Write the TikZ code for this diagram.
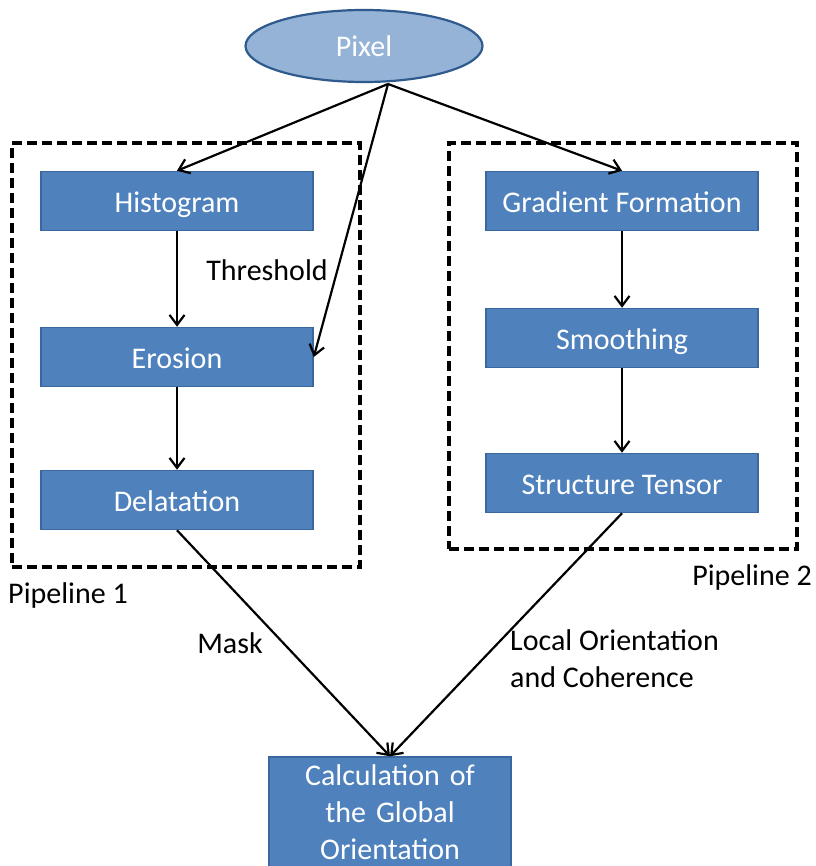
\documentclass[tikz,border=0pt]{standalone}
\usepackage{fontspec}
\setmainfont{Carlito}
\usetikzlibrary{arrows.meta,shapes.geometric}
\definecolor{boxfill}{HTML}{4F81BD}
\definecolor{boxedge}{HTML}{3A679E}
\definecolor{ellfill}{HTML}{95B3D7}
\definecolor{elledge}{HTML}{2E5A8E}
\tikzset{
  basebox/.style={draw=boxedge, line width=1.5pt, fill=boxfill, text=white, inner sep=0pt},
  procbox/.style={basebox, minimum width=272pt, minimum height=59pt, text height=24pt, text depth=1pt, font=\fontsize{30}{36}\selectfont},
  pipe/.style={draw=black, line width=3.2pt, dash pattern=on 10pt off 5pt},
  conn/.style={draw=black, line width=2.2pt, -{Straight Barb[length=10pt,width=15pt,line width=2.2pt]}},
  lbl/.style={font=\fontsize{30}{37}\selectfont, inner sep=0pt}
}
\begin{document}
\begin{tikzpicture}[x=1pt,y=-1pt]
\useasboundingbox (0,0) rectangle (815,866);
% pipelines
\node[pipe, minimum width=348pt, minimum height=424pt, inner sep=0pt] (p1) at (186,355) {};
\node[pipe, minimum width=348pt, minimum height=406pt, inner sep=0pt] (p2) at (623,346) {};
% ellipse
\node[ellipse, draw=elledge, line width=2.2pt, fill=ellfill, text=white, minimum width=237pt, minimum height=72pt, inner sep=0pt, font=\fontsize{30}{36}\selectfont] (pixel) at (364,46) {Pixel};
% boxes
\node[procbox] (hist) at (177,201) {Histogram};
\node[procbox] (eros) at (177,357) {Erosion};
\node[procbox] (dela) at (177,500) {Delatation};
\node[procbox] (grad) at (622,201) {Gradient Formation};
\node[procbox] (smoo) at (622,338) {Smoothing};
\node[procbox] (stru) at (622,483) {Structure Tensor};
\node[basebox, minimum width=242pt, minimum height=110pt, text width=236pt, align=center, font=\fontsize{30}{37}\selectfont] (calc) at (390,812) {Calculation of\\the Global\\Orientation};
% connectors
\coordinate (top) at (388,84);
\draw[conn] (top) -- (hist.north);
\draw[conn] (top) -- (eros.east);
\draw[conn] (top) -- (grad.north);
\draw[conn] (hist) -- (eros);
\draw[conn] (eros) -- (dela);
\draw[conn] (grad) -- (smoo);
\draw[conn] (smoo) -- (stru);
\draw[conn] (dela.south) -- (calc.north);
\draw[conn] (stru.south) -- (calc.north);
% labels
\node[lbl] (thr) at (267,270) {Threshold};
\node[lbl] (pl1) at (68,595) {Pipeline 1};
\node[lbl] (pl2) at (752,577) {Pipeline 2};
\node[lbl] (mask) at (230,643) {Mask};
\node[lbl, anchor=west, align=left] (loc) at (510,659) {Local Orientation\\and Coherence};
\end{tikzpicture}
\end{document}
